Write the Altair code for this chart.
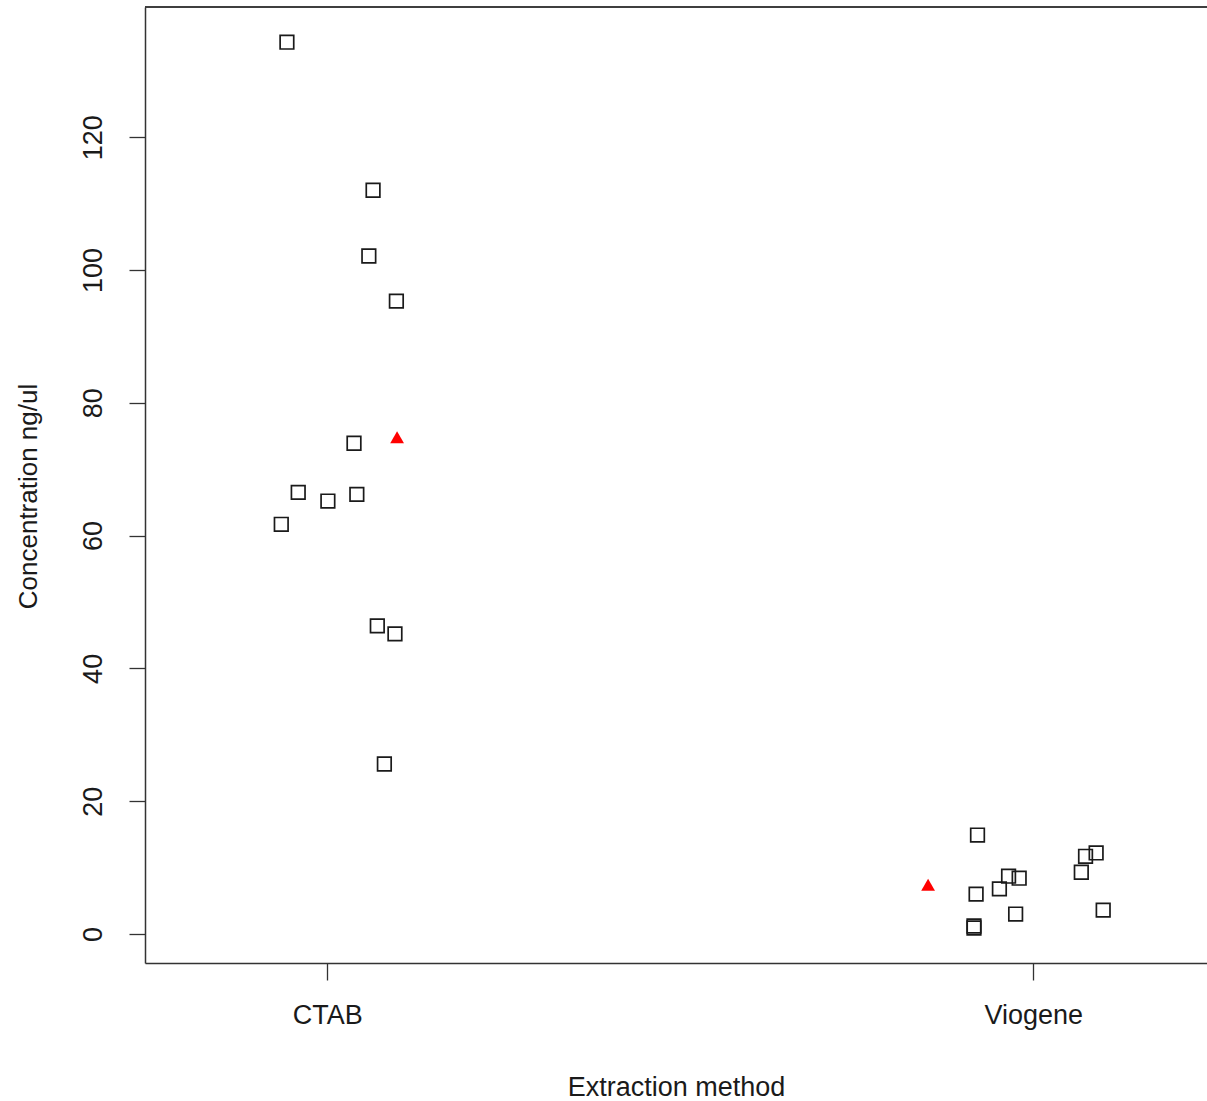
import altair as alt
import pandas as pd

# Categories and tick labels
categories = ["CTAB", "Viogene"]
tick_positions = [1, 2]

# Jittered x positions (category index + jitter) and concentrations
ctab_x = [0.943, 1.065, 1.059, 1.098, 1.038, 0.959, 1.001, 1.042, 0.935, 1.071, 1.096, 1.081]
ctab_y = [134.3, 112.0, 102.1, 95.3, 73.9, 66.5, 65.2, 66.2, 61.7, 46.4, 45.2, 25.6]
viogene_x = [1.921, 2.074, 2.089, 2.068, 1.965, 1.980, 1.952, 1.919, 1.975, 2.099, 1.916, 1.916]
viogene_y = [14.9, 11.7, 12.2, 9.3, 8.7, 8.4, 6.8, 6.0, 3.0, 3.6, 1.2, 0.9]

# Means (red triangles)
mean_x = [1.099, 1.851]
mean_y = [74.8, 7.4]

points = pd.DataFrame({
    "x": ctab_x + viogene_x,
    "y": ctab_y + viogene_y,
    "method": ["CTAB"] * len(ctab_x) + ["Viogene"] * len(viogene_x),
})
means = pd.DataFrame({"x": mean_x, "y": mean_y, "method": categories})

FONT = "Liberation Sans"
TXT = "#1a1a1a"
W, H = 1062, 956

xscale = alt.Scale(domain=[0.742, 2.246], nice=False, zero=False)
yscale = alt.Scale(domain=[-4.37, 139.6], nice=False, zero=False)

xaxis = alt.Axis(
    values=tick_positions,
    labelExpr="datum.value == 1 ? 'CTAB' : 'Viogene'",
    title="Extraction method",
    grid=False,
    tickSize=17,
    tickColor="#333333",
    tickWidth=1.3,
    domainColor="#333333",
    domainWidth=1.5,
    labelFont=FONT,
    labelFontSize=27,
    labelColor=TXT,
    labelPadding=22,
    titleFont=FONT,
    titleFontSize=27,
    titleFontWeight="normal",
    titleColor=TXT,
    titleBaseline="alphabetic",
    titleY=132,
)

yaxis = alt.Axis(
    values=[0, 20, 40, 60, 80, 100, 120],
    title="Concentration ng/ul",
    grid=False,
    tickSize=16,
    tickColor="#333333",
    tickWidth=1.3,
    domainColor="#333333",
    domainWidth=1.5,
    labelFont=FONT,
    labelFontSize=27,
    labelColor=TXT,
    labelAngle=270,
    labelAlign="center",
    labelBaseline="bottom",
    labelPadding=22,
    titleFont=FONT,
    titleFontSize=26,
    titleFontWeight="normal",
    titleColor=TXT,
    titleAngle=270,
    titleAlign="center",
    titleBaseline="alphabetic",
    titleX=-109,
    titleY=489,
)

squares = alt.Chart(points).mark_point(
    shape="square", size=185, filled=False, stroke="#1a1a1a", strokeWidth=1.7, opacity=1
).encode(
    x=alt.X("x:Q", scale=xscale, axis=xaxis),
    y=alt.Y("y:Q", scale=yscale, axis=yaxis),
)

tri = alt.Chart(means).mark_point(
    shape="triangle-up", size=190, filled=True, fill="#ff0000", strokeWidth=0, opacity=1
).encode(
    x=alt.X("x:Q", scale=xscale),
    y=alt.Y("y:Q", scale=yscale),
)

top_border = alt.Chart(means).mark_rule(color="#333333", strokeWidth=1.5).encode(
    x=alt.value(0), x2=alt.value(W), y=alt.value(0)
)

chart = alt.layer(squares, tri, top_border).properties(
    width=W,
    height=H,
    autosize=alt.AutoSizeParams(type="none"),
    padding={"left": 145, "top": 7, "right": 0, "bottom": 138},
    background="white",
).configure_view(stroke=None)

chart.save("out.html", embed_options={"renderer": "svg", "actions": False})
